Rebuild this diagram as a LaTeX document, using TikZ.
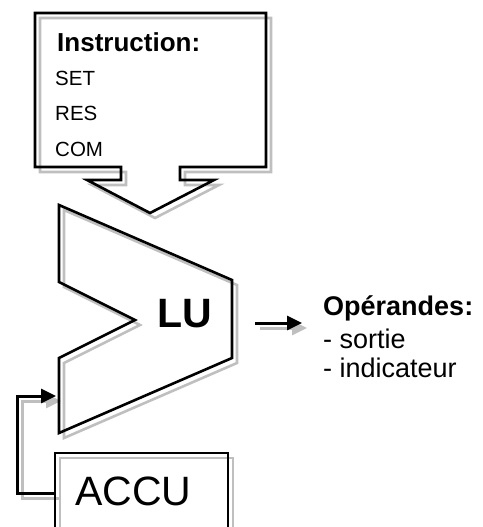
\documentclass[tikz,border=0pt]{standalone}
\usepackage{fontspec}
\setmainfont{Liberation Sans}
\usetikzlibrary{arrows.meta}
\tikzstyle{outline}=[line width=2.6pt, line join=miter]
\tikzstyle{flow}=[line width=3pt, -{Triangle[length=15pt,width=14pt]}]
\tikzstyle{txt}=[inner sep=0pt, anchor=base west]

\begin{document}
\begin{tikzpicture}[x=1pt,y=-1pt]
	\useasboundingbox (0,0) rectangle (482,527);
	\coordinate (accuw) at (55,493);
	\coordinate (corna) at (17,493);
	\coordinate (cornb) at (17,396);
	\coordinate (luin) at (56,396);
	\coordinate (luout) at (255,323);
	\coordinate (opsin) at (302,323);
	% shadow first, then black
	\foreach \col/\off in {gray!50/5, black/0} {
		\begin{scope}[shift={(\off,\off)}, color=\col]
			\draw [style=outline] (35,13) -- (266,13) -- (266,167) -- (180,167) -- (180,180) -- (214,180) -- (150,213) -- (87,180) -- (121,180) -- (121,167) -- (35,167) -- cycle;
			\draw [style=outline] (59,205) -- (232,280) -- (232,358) -- (59,433) -- (59,358) -- (135,320) -- (59,282) -- cycle;
			\draw [style=outline] (55,540) -- (55,453) -- (228,453) -- (228,540);
		\end{scope}
		\draw [style=flow, color=\col] ([shift={(\off,\off)}]accuw) -- ([shift={(\off,\off)}]corna) -- ([shift={(\off,\off)}]cornb) -- ([shift={(\off,\off)}]luin);
		\draw [style=flow, color=\col] ([shift={(\off,\off)}]luout) -- ([shift={(\off,\off)}]opsin);
	}
	\node [style=txt, font=\bfseries\fontsize{26}{30}\selectfont] (instr) at (57,52) {Instruction:};
	\node [style=txt, font=\fontsize{20.5}{24}\selectfont] (set) at (55,85) {SET};
	\node [style=txt, font=\fontsize{20.5}{24}\selectfont] (res) at (55,120) {RES};
	\node [style=txt, font=\fontsize{20.5}{24}\selectfont] (com) at (55,156) {COM};
	\node [style=txt, font=\bfseries\fontsize{41}{48}\selectfont] (lu) at (157,327) {LU};
	\node [style=txt, font=\fontsize{41}{48}\selectfont] (accu) at (75,505) {ACCU};
	\node [style=txt, font=\bfseries\fontsize{27}{32}\selectfont] (ops) at (323,315) {Opérandes:};
	\node [style=txt, font=\fontsize{27}{32}\selectfont] (sortie) at (323,348) {- sortie};
	\node [style=txt, font=\fontsize{27}{32}\selectfont] (indic) at (323,377) {- indicateur};
\end{tikzpicture}
\end{document}
